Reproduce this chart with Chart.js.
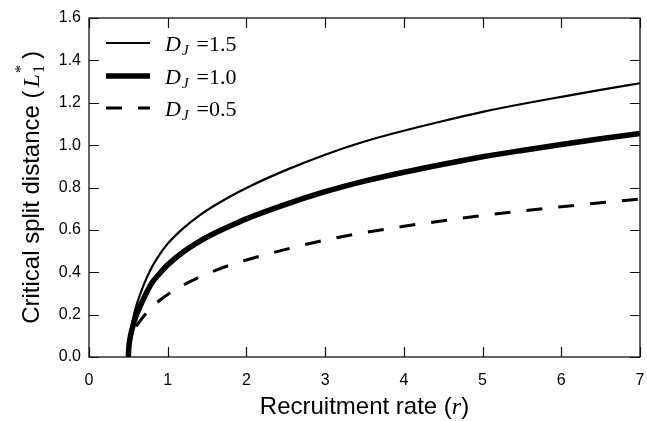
<!DOCTYPE html>
<html><head><meta charset="utf-8">
<script src="https://cdn.jsdelivr.net/npm/chart.js@4/dist/chart.umd.min.js"></script>
<style>html,body{margin:0;padding:0;background:#fff;}#wrap{width:647px;height:421px;}</style>
</head><body><div id="wrap"><canvas id="c" width="647" height="421"></canvas></div>
<script>
// ---- data ----
const rSolid = [0.5, 0.505, 0.52, 0.55, 0.6, 0.7, 0.8, 0.9, 1.0, 1.2, 1.4, 1.6, 1.8, 2.0, 2.5, 3.0, 3.5, 4.0, 4.5, 5.0, 5.5, 6.0, 6.5, 7.0];
const lD15 = [0, 0.05, 0.105, 0.165, 0.24, 0.345, 0.425, 0.485, 0.535, 0.608, 0.667, 0.716, 0.759, 0.798, 0.882, 0.955, 1.017, 1.068, 1.114, 1.157, 1.194, 1.228, 1.261, 1.292];
const lD10 = [0, 0.04, 0.085, 0.135, 0.195, 0.28, 0.35, 0.395, 0.435, 0.497, 0.545, 0.585, 0.62, 0.652, 0.72, 0.78, 0.83, 0.872, 0.91, 0.945, 0.975, 1.003, 1.03, 1.055];
const rDash = [0.6, 0.7, 0.8, 0.9, 1.0, 1.2, 1.4, 1.6, 1.8, 2.0, 2.5, 3.0, 3.5, 4.0, 4.5, 5.0, 5.5, 6.0, 6.5, 7.0];
const lD05 = [0.145, 0.195, 0.235, 0.268, 0.295, 0.34, 0.377, 0.408, 0.435, 0.458, 0.508, 0.552, 0.587, 0.617, 0.643, 0.668, 0.689, 0.709, 0.728, 0.746];
const djValues = ['1.5', '1.0', '0.5'];
const xMin = 0, xMax = 7, xStep = 1;
const yMin = 0, yMax = 1.6, yStep = 0.2;
const xTitle = ['Recruitment rate (', 'r', ')'];
const yTitle = ['Critical split distance (', 'L', '1', '*', ')'];

const SANS = '"Liberation Sans", Arial, sans-serif';
const SERIF = '"Liberation Serif", "DejaVu Serif", serif';

const pts = (xs, ys) => xs.map((x, i) => ({x: x, y: ys[i]}));

const styles = [
  {borderWidth: 2.2, borderDash: []},
  {borderWidth: 5.5, borderDash: []},
  {borderWidth: 3, borderDash: [16, 16]}
];

const mplPlugin = {
  id: 'mpl',
  afterDraw(chart) {
    const ctx = chart.ctx, a = chart.chartArea;
    const xs = chart.scales.x, ys = chart.scales.y;
    ctx.save();
    ctx.strokeStyle = '#111';
    ctx.lineWidth = 1.3;
    ctx.strokeRect(a.left, a.top, a.right - a.left, a.bottom - a.top);
    ctx.lineWidth = 1.2;
    const TL = 10;
    xs.ticks.forEach(t => {
      const p = Math.round(xs.getPixelForValue(t.value)) + 0.5;
      ctx.beginPath();
      ctx.moveTo(p, a.bottom); ctx.lineTo(p, a.bottom - TL);
      ctx.moveTo(p, a.top); ctx.lineTo(p, a.top + TL);
      ctx.stroke();
    });
    ys.ticks.forEach(t => {
      const p = Math.round(ys.getPixelForValue(t.value)) + 0.5;
      ctx.beginPath();
      ctx.moveTo(a.left, p); ctx.lineTo(a.left + TL, p);
      ctx.moveTo(a.right, p); ctx.lineTo(a.right - TL, p);
      ctx.stroke();
    });

    ctx.fillStyle = '#000';
    ctx.textBaseline = 'alphabetic';
    ctx.textAlign = 'left';
    const FS = 24;
    // x title
    const xr = [
      {t: xTitle[0], f: FS + 'px ' + SANS},
      {t: xTitle[1], f: 'italic ' + FS + 'px ' + SERIF},
      {t: xTitle[2], f: FS + 'px ' + SANS}
    ];
    let w = 0;
    xr.forEach(r => { ctx.font = r.f; r.w = ctx.measureText(r.t).width; w += r.w; });
    let x0 = (a.left + a.right) / 2 - w / 2;
    xr.forEach(r => { ctx.font = r.f; ctx.fillText(r.t, x0, 414); x0 += r.w; });

    // y title (rotated)
    ctx.save();
    ctx.translate(39, (a.top + a.bottom) / 2);
    ctx.rotate(-Math.PI / 2);
    const f1 = FS + 'px ' + SANS, fL = 'italic ' + FS + 'px ' + SERIF, fn = '16px ' + SERIF;
    ctx.font = f1; const w1 = ctx.measureText(yTitle[0]).width;
    ctx.font = fL; const wL = ctx.measureText(yTitle[1]).width;
    ctx.font = fn; const wSub = Math.max(ctx.measureText(yTitle[2]).width, ctx.measureText(yTitle[3]).width);
    ctx.font = f1; const wP = ctx.measureText(yTitle[4]).width;
    const total = w1 + 3 + wL + 1 + wSub + 6 + wP;
    let yx = -total / 2;
    ctx.font = f1; ctx.fillText(yTitle[0], yx, 0); yx += w1 + 3;
    ctx.font = fL; ctx.fillText(yTitle[1], yx, 0); yx += wL + 1;
    ctx.font = fn; ctx.fillText(yTitle[2], yx, 5); ctx.fillText(yTitle[3], yx, -13); yx += wSub + 6;
    ctx.font = f1; ctx.fillText(yTitle[4], yx, 0);
    ctx.restore();

    // legend
    const ly = [43, 76, 108];
    chart.data.datasets.forEach((ds, i) => {
      ctx.save();
      ctx.strokeStyle = '#000';
      ctx.lineWidth = ds.borderWidth;
      ctx.setLineDash(ds.borderDash || []);
      ctx.lineCap = 'butt';
      ctx.beginPath();
      ctx.moveTo(106, ly[i]); ctx.lineTo(150, ly[i]);
      ctx.stroke();
      ctx.restore();
      let tx = 165;
      const base = ly[i] + 8;
      ctx.font = 'italic 22px ' + SERIF; ctx.fillText('D', tx, base); tx += ctx.measureText('D').width;
      ctx.font = 'italic 15px ' + SERIF; ctx.fillText('J', tx + 1, base + 4); tx += ctx.measureText('J').width + 9;
      ctx.font = '22px ' + SERIF; ctx.fillText('=' + djValues[i], tx, base);
    });
    ctx.restore();
  }
};

new Chart(document.getElementById('c'), {
  type: 'line',
  data: {
    datasets: [
      {label: 'D_J=' + djValues[0], data: pts(rSolid, lD15), borderColor: '#000', ...styles[0]},
      {label: 'D_J=' + djValues[1], data: pts(rSolid, lD10), borderColor: '#000', ...styles[1]},
      {label: 'D_J=' + djValues[2], data: pts(rDash, lD05), borderColor: '#000', ...styles[2]}
    ]
  },
  options: {
    responsive: false,
    devicePixelRatio: 1,
    animation: false,
    layout: {padding: {left: 0, top: 18, right: 7, bottom: 0}},
    elements: {point: {radius: 0}, line: {cubicInterpolationMode: 'monotone', borderCapStyle: 'butt'}},
    plugins: {legend: {display: false}, tooltip: {enabled: false}},
    scales: {
      x: {
        type: 'linear', min: xMin, max: xMax,
        grid: {display: false, drawTicks: false},
        border: {display: false},
        ticks: {stepSize: xStep, padding: 14, color: '#000', font: {family: SANS, size: 16}, callback: v => String(v)},
        afterFit: s => { s.height = 64; s.paddingLeft = 0; s.paddingRight = 0; }
      },
      y: {
        type: 'linear', min: yMin, max: yMax,
        grid: {display: false, drawTicks: false},
        border: {display: false},
        ticks: {stepSize: yStep, padding: 8, color: '#000', font: {family: SANS, size: 16}, callback: v => v.toFixed(1)},
        afterFit: s => { s.width = 89; s.paddingTop = 0; s.paddingBottom = 0; }
      }
    }
  },
  plugins: [mplPlugin]
});
</script>
</body></html>
